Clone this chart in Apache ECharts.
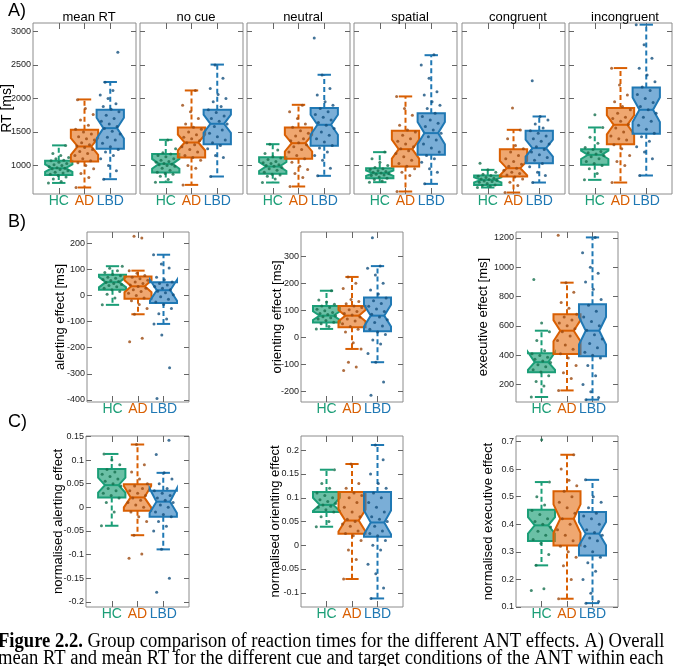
<!DOCTYPE html>
<html>
<head>
<meta charset="utf-8">
<script src="https://cdn.jsdelivr.net/npm/echarts@6/dist/echarts.min.js"></script>
<style>
  html, body { margin: 0; padding: 0; background: #fff; }
  #chart { width: 674px; height: 666px; }
</style>
</head>
<body>
<div id="chart"></div>
<script>
// groups and colours
const groups = ['HC', 'AD', 'LBD'];
const lineColors = ['#1b9e77', '#d95f02', '#1f78b4'];
const fillColors = ['rgba(27,158,119,0.65)', 'rgba(230,120,35,0.65)', 'rgba(40,125,190,0.62)'];
const dotColors = ['#16704f', '#9c4a10', '#14507e'];

const titlesA = ['mean RT', 'no cue', 'neutral', 'spatial', 'congruent', 'incongruent'];

// tick labels
const rtTicks = [1000, 1500, 2000, 2500, 3000];
const alertTicks = [-400, -300, -200, -100, 0, 100, 200];
const orientTicks = [-200, -100, 0, 100, 200, 300];
const execTicks = [200, 400, 600, 800, 1000, 1200];
const normAlertTicks = [-0.2, -0.15, -0.1, -0.05, 0, 0.05, 0.1, 0.15];
const normOrientTicks = [-0.1, -0.05, 0, 0.05, 0.1, 0.15, 0.2];
const normExecTicks = [0.1, 0.2, 0.3, 0.4, 0.5, 0.6, 0.7];

// box stats per group: [lower whisker, q1, median, q3, upper whisker, notch low, notch high]
const meanRtBox = [[740, 860, 960, 1070, 1300, 904, 1016], [672, 1060, 1284, 1532, 1985, 1159, 1409], [796, 1249, 1557, 1831, 2245, 1403, 1711]];
const noCueBox = [[751, 895, 1025, 1170, 1383, 952, 1098], [711, 1119, 1343, 1567, 2119, 1224, 1462], [836, 1318, 1622, 1831, 2505, 1486, 1758]];
const neutralBox = [[746, 876, 985, 1124, 1318, 919, 1051], [687, 1100, 1333, 1567, 1905, 1209, 1457], [846, 1294, 1607, 1856, 2353, 1458, 1756]];
const spatialBox = [[751, 811, 886, 960, 1199, 846, 926], [612, 985, 1244, 1517, 2030, 1103, 1385], [726, 1159, 1483, 1781, 2645, 1318, 1648]];
const congruentBox = [[672, 711, 786, 851, 935, 749, 823], [597, 836, 960, 1244, 1532, 852, 1068], [746, 1035, 1259, 1517, 1731, 1131, 1387]];
const incongruentBox = [[786, 1010, 1159, 1244, 1567, 1097, 1221], [746, 1318, 1607, 1856, 2453, 1464, 1750], [851, 1473, 1831, 2164, 3100, 1648, 2014]];
const alertBox = [[-36, 22, 51, 79, 112, 31, 71], [-72, -13, 35, 73, 95, 12, 58], [-109, -29, 20, 51, 156, -20, 60]];
const orientBox = [[31, 55, 80, 116, 172, 64, 96], [-43, 37, 80, 116, 223, 59, 101], [-92, 22, 80, 147, 263, 40, 120]];
const execBox = [[114, 284, 352, 413, 567, 300, 420], [159, 408, 567, 680, 895, 495, 639], [96, 392, 567, 748, 1204, 473, 661]];
const normAlertBox = [[-0.039, 0.021, 0.047, 0.081, 0.113, 0.031, 0.063], [-0.059, -0.007, 0.021, 0.049, 0.133, 0.0, 0.045], [-0.089, -0.020, 0.012, 0.035, 0.073, -0.012, 0.04]];
const normOrientBox = [[0.039, 0.070, 0.085, 0.112, 0.159, 0.072, 0.1], [-0.071, 0.024, 0.052, 0.112, 0.171, 0.029, 0.075], [-0.112, 0.018, 0.048, 0.112, 0.211, 0.023, 0.073]];
const normExecBox = [[0.251, 0.339, 0.396, 0.453, 0.553, 0.366, 0.426], [0.13, 0.323, 0.420, 0.520, 0.652, 0.368, 0.472], [0.114, 0.287, 0.366, 0.444, 0.561, 0.324, 0.408]];

// individual participants (HC, AD, LBD)
const meanRtDots = [
  [740, 760, 800, 830, 850, 870, 890, 900, 920, 940, 950, 960, 965, 980, 1000, 1010, 1030, 1050, 1070, 1080, 1100, 1120, 1150, 1180, 1300],
  [672, 820, 880, 950, 1000, 1040, 1070, 1100, 1150, 1180, 1210, 1240, 1270, 1290, 1310, 1340, 1380, 1400, 1430, 1470, 1500, 1540, 1600, 1680, 1760, 1850, 1980],
  [796, 920, 1000, 1100, 1150, 1200, 1240, 1280, 1330, 1380, 1420, 1470, 1510, 1550, 1580, 1620, 1660, 1700, 1750, 1800, 1840, 1880, 1920, 2000, 2050, 2120, 2240, 2690]
];
const noCueDots = [
  [750, 790, 840, 870, 880, 900, 930, 960, 990, 1000, 1010, 1020, 1030, 1050, 1060, 1080, 1100, 1130, 1150, 1170, 1190, 1250, 1380],
  [710, 960, 1000, 1080, 1120, 1150, 1200, 1240, 1280, 1310, 1340, 1370, 1400, 1420, 1460, 1500, 1540, 1570, 1620, 1700, 1800, 1900, 2120],
  [836, 1120, 1150, 1250, 1300, 1340, 1380, 1430, 1480, 1530, 1580, 1620, 1660, 1700, 1740, 1790, 1830, 1880, 1950, 2000, 2060, 2150, 2300, 2500]
];
const neutralDots = [
  [746, 800, 840, 860, 870, 900, 930, 950, 970, 990, 1000, 1010, 1030, 1040, 1060, 1090, 1110, 1130, 1180, 1230, 1318],
  [687, 820, 880, 940, 990, 1050, 1100, 1150, 1200, 1240, 1280, 1310, 1340, 1370, 1400, 1440, 1480, 1520, 1570, 1620, 1700, 1800, 1900],
  [846, 960, 1080, 1150, 1200, 1260, 1300, 1350, 1400, 1450, 1500, 1550, 1600, 1640, 1680, 1720, 1760, 1800, 1850, 1900, 1950, 2050, 2150, 2350, 2900]
];
const spatialDots = [
  [751, 770, 790, 810, 830, 850, 860, 870, 880, 890, 900, 910, 920, 940, 950, 970, 1000, 1050, 1100, 1200],
  [612, 850, 900, 950, 990, 1030, 1080, 1130, 1180, 1220, 1250, 1280, 1320, 1360, 1400, 1450, 1500, 1530, 1600, 1750, 1850, 2030],
  [726, 900, 950, 1050, 1100, 1150, 1200, 1260, 1320, 1380, 1430, 1480, 1530, 1580, 1630, 1680, 1730, 1780, 1850, 1900, 1950, 2050, 2100, 2300, 2500, 2650]
];
const congruentDots = [
  [672, 690, 700, 710, 730, 750, 760, 770, 780, 790, 800, 810, 820, 840, 850, 870, 900, 935, 1035],
  [597, 700, 750, 800, 830, 860, 880, 900, 930, 960, 990, 1020, 1060, 1100, 1150, 1200, 1250, 1300, 1400, 1530, 1856],
  [746, 850, 900, 980, 1030, 1080, 1120, 1160, 1200, 1240, 1280, 1320, 1360, 1400, 1440, 1480, 1520, 1560, 1620, 1680, 1730, 2264]
];
const incongruentDots = [
  [786, 880, 950, 1000, 1030, 1060, 1100, 1130, 1150, 1170, 1190, 1210, 1240, 1270, 1330, 1420, 1567, 1756],
  [746, 1000, 1060, 1150, 1250, 1310, 1380, 1400, 1440, 1500, 1560, 1610, 1660, 1700, 1720, 1780, 1830, 1880, 1950, 2050, 2200, 2450],
  [851, 1100, 1200, 1280, 1360, 1430, 1480, 1540, 1600, 1660, 1720, 1780, 1830, 1880, 1940, 2000, 2060, 2120, 2170, 2250, 2350, 2450, 2600, 2800, 3100]
];
const alertDots = [
  [-36, -10, 5, 15, 22, 28, 33, 38, 42, 46, 50, 53, 57, 61, 66, 70, 75, 80, 88, 95, 104, 112],
  [-177, -164, -72, -50, -35, -20, -10, 0, 8, 15, 22, 28, 34, 40, 46, 52, 58, 64, 70, 76, 85, 95, 220, 227],
  [-395, -277, -151, -109, -90, -70, -50, -35, -25, -15, -5, 3, 10, 16, 22, 28, 34, 40, 46, 52, 60, 70, 105, 120, 156]
];
const orientDots = [
  [31, 40, 50, 56, 62, 68, 72, 76, 80, 84, 88, 92, 98, 104, 110, 116, 122, 130, 138, 172],
  [-123, -110, -92, -43, -20, 20, 30, 40, 50, 60, 68, 75, 82, 88, 95, 102, 110, 116, 124, 132, 140, 180, 200, 223],
  [-214, -165, -92, -60, -25, -10, 10, 20, 30, 42, 55, 65, 75, 85, 95, 105, 115, 125, 135, 145, 160, 175, 200, 230, 255, 263, 368]
];
const execDots = [
  [114, 190, 220, 260, 285, 300, 320, 335, 350, 360, 372, 385, 398, 410, 430, 500, 560, 620, 917],
  [159, 240, 280, 330, 380, 410, 440, 470, 500, 530, 560, 580, 600, 620, 640, 660, 680, 720, 760, 830, 895, 1218],
  [96, 110, 150, 200, 260, 330, 380, 400, 420, 450, 480, 510, 540, 570, 600, 630, 660, 700, 740, 780, 850, 900, 960, 1000, 1100, 1204]
];
const normAlertDots = [
  [-0.039, -0.01, 0.01, 0.02, 0.025, 0.03, 0.035, 0.04, 0.045, 0.05, 0.055, 0.06, 0.065, 0.07, 0.075, 0.08, 0.09, 0.1, 0.113],
  [-0.108, -0.099, -0.059, -0.03, -0.02, -0.01, 0, 0.005, 0.01, 0.015, 0.02, 0.025, 0.03, 0.035, 0.04, 0.045, 0.05, 0.06, 0.075, 0.09, 0.133],
  [-0.18, -0.15, -0.089, -0.05, -0.04, -0.03, -0.02, -0.015, -0.01, 0, 0.005, 0.01, 0.015, 0.02, 0.025, 0.03, 0.035, 0.04, 0.05, 0.06, 0.073, 0.112, 0.142]
];
const normOrientDots = [
  [0.039, 0.05, 0.06, 0.07, 0.075, 0.08, 0.082, 0.085, 0.088, 0.092, 0.096, 0.1, 0.105, 0.11, 0.12, 0.13, 0.159],
  [-0.071, -0.03, -0.01, 0.01, 0.02, 0.025, 0.03, 0.04, 0.045, 0.05, 0.055, 0.06, 0.07, 0.08, 0.09, 0.1, 0.105, 0.11, 0.12, 0.13, 0.171],
  [-0.112, -0.09, -0.06, -0.04, -0.01, 0, 0.01, 0.02, 0.025, 0.03, 0.04, 0.05, 0.055, 0.06, 0.07, 0.08, 0.09, 0.1, 0.11, 0.12, 0.13, 0.15, 0.18, 0.211]
];
const normExecDots = [
  [0.16, 0.166, 0.251, 0.29, 0.33, 0.345, 0.36, 0.375, 0.39, 0.4, 0.41, 0.42, 0.435, 0.45, 0.47, 0.5, 0.553, 0.706],
  [0.13, 0.2, 0.25, 0.28, 0.3, 0.32, 0.34, 0.36, 0.38, 0.4, 0.42, 0.44, 0.46, 0.48, 0.5, 0.52, 0.54, 0.56, 0.6, 0.652],
  [0.114, 0.12, 0.15, 0.2, 0.23, 0.26, 0.28, 0.3, 0.32, 0.34, 0.35, 0.36, 0.37, 0.38, 0.4, 0.42, 0.43, 0.44, 0.46, 0.48, 0.5, 0.561]
];

const captionLine1 = '{b|Figure 2.2.} Group comparison of reaction times for the different ANT effects. A) Overall';
const captionLine2 = 'mean RT and mean RT for the different cue and target conditions of the ANT within each';

// panel layout
const rowA = [meanRtBox, noCueBox, neutralBox, spatialBox, congruentBox, incongruentBox];
const rowADots = [meanRtDots, noCueDots, neutralDots, spatialDots, congruentDots, incongruentDots];
const leftsA = [33, 140, 247, 354, 462, 569];

const panels = [];
rowA.forEach((box, i) => {
  panels.push({ box: box, dots: rowADots[i], left: leftsA[i], top: 23, width: 103, height: 171,
    min: 575, max: 3125, ticks: rtTicks, labels: i === 0, name: i === 0 ? 'RT [ms]' : '', nameGap: 19, nameSize: 14 });
});
panels.push({ box: alertBox, dots: alertDots, left: 87, top: 232, width: 102, height: 170, min: -408, max: 243, ticks: alertTicks, labels: true, name: 'alerting effect [ms]', nameGap: 20 });
panels.push({ box: orientBox, dots: orientDots, left: 301, top: 232, width: 102, height: 170, min: -239, max: 389, ticks: orientTicks, labels: true, name: 'orienting effect [ms]', nameGap: 17 });
panels.push({ box: execBox, dots: execDots, left: 516, top: 232, width: 102, height: 170, min: 80, max: 1241, ticks: execTicks, labels: true, name: 'executive effect [ms]', nameGap: 26 });
panels.push({ box: normAlertBox, dots: normAlertDots, left: 86, top: 436, width: 103, height: 171, min: -0.211, max: 0.151, ticks: normAlertTicks, labels: true, name: 'normalised alerting effect', nameGap: 21 });
panels.push({ box: normOrientBox, dots: normOrientDots, left: 301, top: 436, width: 102, height: 171, min: -0.13, max: 0.23, ticks: normOrientTicks, labels: true, name: 'normalised orienting effect', nameGap: 19 });
panels.push({ box: normExecBox, dots: normExecDots, left: 516, top: 436, width: 102, height: 171, min: 0.1, max: 0.72, ticks: normExecTicks, labels: true, name: 'normalised executive effect', nameGap: 21 });

function jitter(k) {
  return (((k * 0.6180339887) % 1) - 0.5) * 0.8;
}

function renderBox(params, api) {
  const g = api.value(0);
  const ci = g - 1;
  const wlo = api.value(1), q1 = api.value(2), med = api.value(3), q3 = api.value(4);
  const whi = api.value(5), nlo = api.value(6), nhi = api.value(7);
  const hw = 0.53, cap = 0.26;
  const c = (x, y) => api.coord([x, y]);
  const solid = { stroke: lineColors[ci], lineWidth: 2 };
  const dashed = { stroke: lineColors[ci], lineWidth: 2, lineDash: [5, 3] };
  const seg = (a, b, style) => ({ type: 'line', shape: { x1: a[0], y1: a[1], x2: b[0], y2: b[1] }, style: style });
  const poly = [c(g - hw, q1), c(g - hw, nlo), c(g - hw / 2, med), c(g - hw, nhi), c(g - hw, q3),
    c(g + hw, q3), c(g + hw, nhi), c(g + hw / 2, med), c(g + hw, nlo), c(g + hw, q1)];
  return {
    type: 'group',
    children: [
      seg(c(g, q3), c(g, whi), dashed),
      seg(c(g, q1), c(g, wlo), dashed),
      seg(c(g - cap, whi), c(g + cap, whi), solid),
      seg(c(g - cap, wlo), c(g + cap, wlo), solid),
      { type: 'polygon', shape: { points: poly }, style: { fill: fillColors[ci], stroke: lineColors[ci], lineWidth: 2 } },
      seg(c(g - hw / 2, med), c(g + hw / 2, med), solid)
    ]
  };
}

const grid = [], xAxis = [], yAxis = [], series = [];
const tickLine = { color: '#666', width: 1 };
const noLine = { show: false, onZero: false };
const catRich = {};
groups.forEach((name, i) => {
  catRich['g' + (i + 1)] = { color: lineColors[i], fontSize: 14, fontFamily: 'Liberation Sans' };
});

panels.forEach((p, i) => {
  grid.push({ left: p.left, top: p.top, width: p.width, height: p.height, show: true,
    outerBoundsMode: 'none', containLabel: false,
    borderColor: '#8c8c8c', borderWidth: 1, backgroundColor: 'transparent' });
  xAxis.push({
    gridIndex: i, type: 'value', min: 0, max: 4, position: 'bottom',
    axisLine: noLine, splitLine: { show: false },
    axisTick: { inside: true, length: 6, customValues: [1, 2, 3], lineStyle: tickLine },
    axisLabel: { customValues: [1, 2, 3], margin: 0, formatter: v => '{g' + v + '|' + groups[v - 1] + '}', rich: catRich }
  });
  xAxis.push({
    gridIndex: i, type: 'value', min: 0, max: 4, position: 'top',
    axisLine: noLine, splitLine: { show: false },
    axisTick: { inside: true, length: 6, customValues: [1, 2, 3], lineStyle: tickLine },
    axisLabel: { show: false }
  });
  yAxis.push({
    gridIndex: i, type: 'value', min: p.min, max: p.max, position: 'left',
    axisLine: noLine, splitLine: { show: false },
    axisTick: { inside: true, length: 5, customValues: p.ticks, lineStyle: tickLine },
    axisLabel: { show: p.labels, customValues: p.ticks, formatter: v => String(v),
      fontSize: 9, margin: 2, color: '#222', fontFamily: 'Liberation Sans' },
    name: p.name, nameLocation: 'middle', nameGap: p.nameGap, nameRotate: 90, nameMoveOverlap: false,
    nameTextStyle: { fontSize: p.nameSize || 13, color: '#000', fontFamily: 'Liberation Sans' }
  });
  yAxis.push({
    gridIndex: i, type: 'value', min: p.min, max: p.max, position: 'right',
    axisLine: noLine, splitLine: { show: false },
    axisTick: { inside: true, length: 5, customValues: p.ticks, lineStyle: tickLine },
    axisLabel: { show: false }
  });
  series.push({
    type: 'custom', xAxisIndex: 2 * i, yAxisIndex: 2 * i, silent: true, z: 2,
    renderItem: renderBox,
    data: p.box.map((s, g) => [g + 1].concat(s))
  });
  p.dots.forEach((vals, g) => {
    series.push({
      type: 'scatter', xAxisIndex: 2 * i, yAxisIndex: 2 * i, silent: true, z: 3,
      symbolSize: 3, itemStyle: { color: dotColors[g] },
      data: vals.map((y, k) => [g + 1 + jitter(k + g * 5), y])
    });
  });
});

const title = titlesA.map((t, i) => ({
  text: t, left: leftsA[i] + 51, top: 6, textAlign: 'center',
  textStyle: { fontSize: 13, fontWeight: 'normal', color: '#000', fontFamily: 'Liberation Sans' }
}));
const panelLetter = (t, top) => ({
  text: t, left: 3, top: top,
  textStyle: { fontSize: 18, fontWeight: 'normal', color: '#000', fontFamily: 'Liberation Sans' }
});
title.push(panelLetter('A)', -3), panelLetter('B)', 208), panelLetter('C)', 408));

// caption, slightly condensed like the source scan
const capRich = { b: { fontSize: 20, fontWeight: 'bold', fill: '#000', fontFamily: 'Liberation Serif' } };
const captionText = (text, y) => ({
  type: 'text', x: -2, y: y, scaleX: 0.93, silent: true,
  style: { text: text, rich: capRich, fontSize: 20, fontFamily: 'Liberation Serif', fill: '#000', verticalAlign: 'middle', align: 'left' }
});

const chart = echarts.init(document.getElementById('chart'));
chart.setOption({
  animation: false,
  backgroundColor: '#fff',
  title: title,
  grid: grid,
  xAxis: xAxis,
  yAxis: yAxis,
  series: series,
  graphic: [captionText(captionLine1, 642), captionText(captionLine2, 659)]
});
</script>
</body>
</html>
